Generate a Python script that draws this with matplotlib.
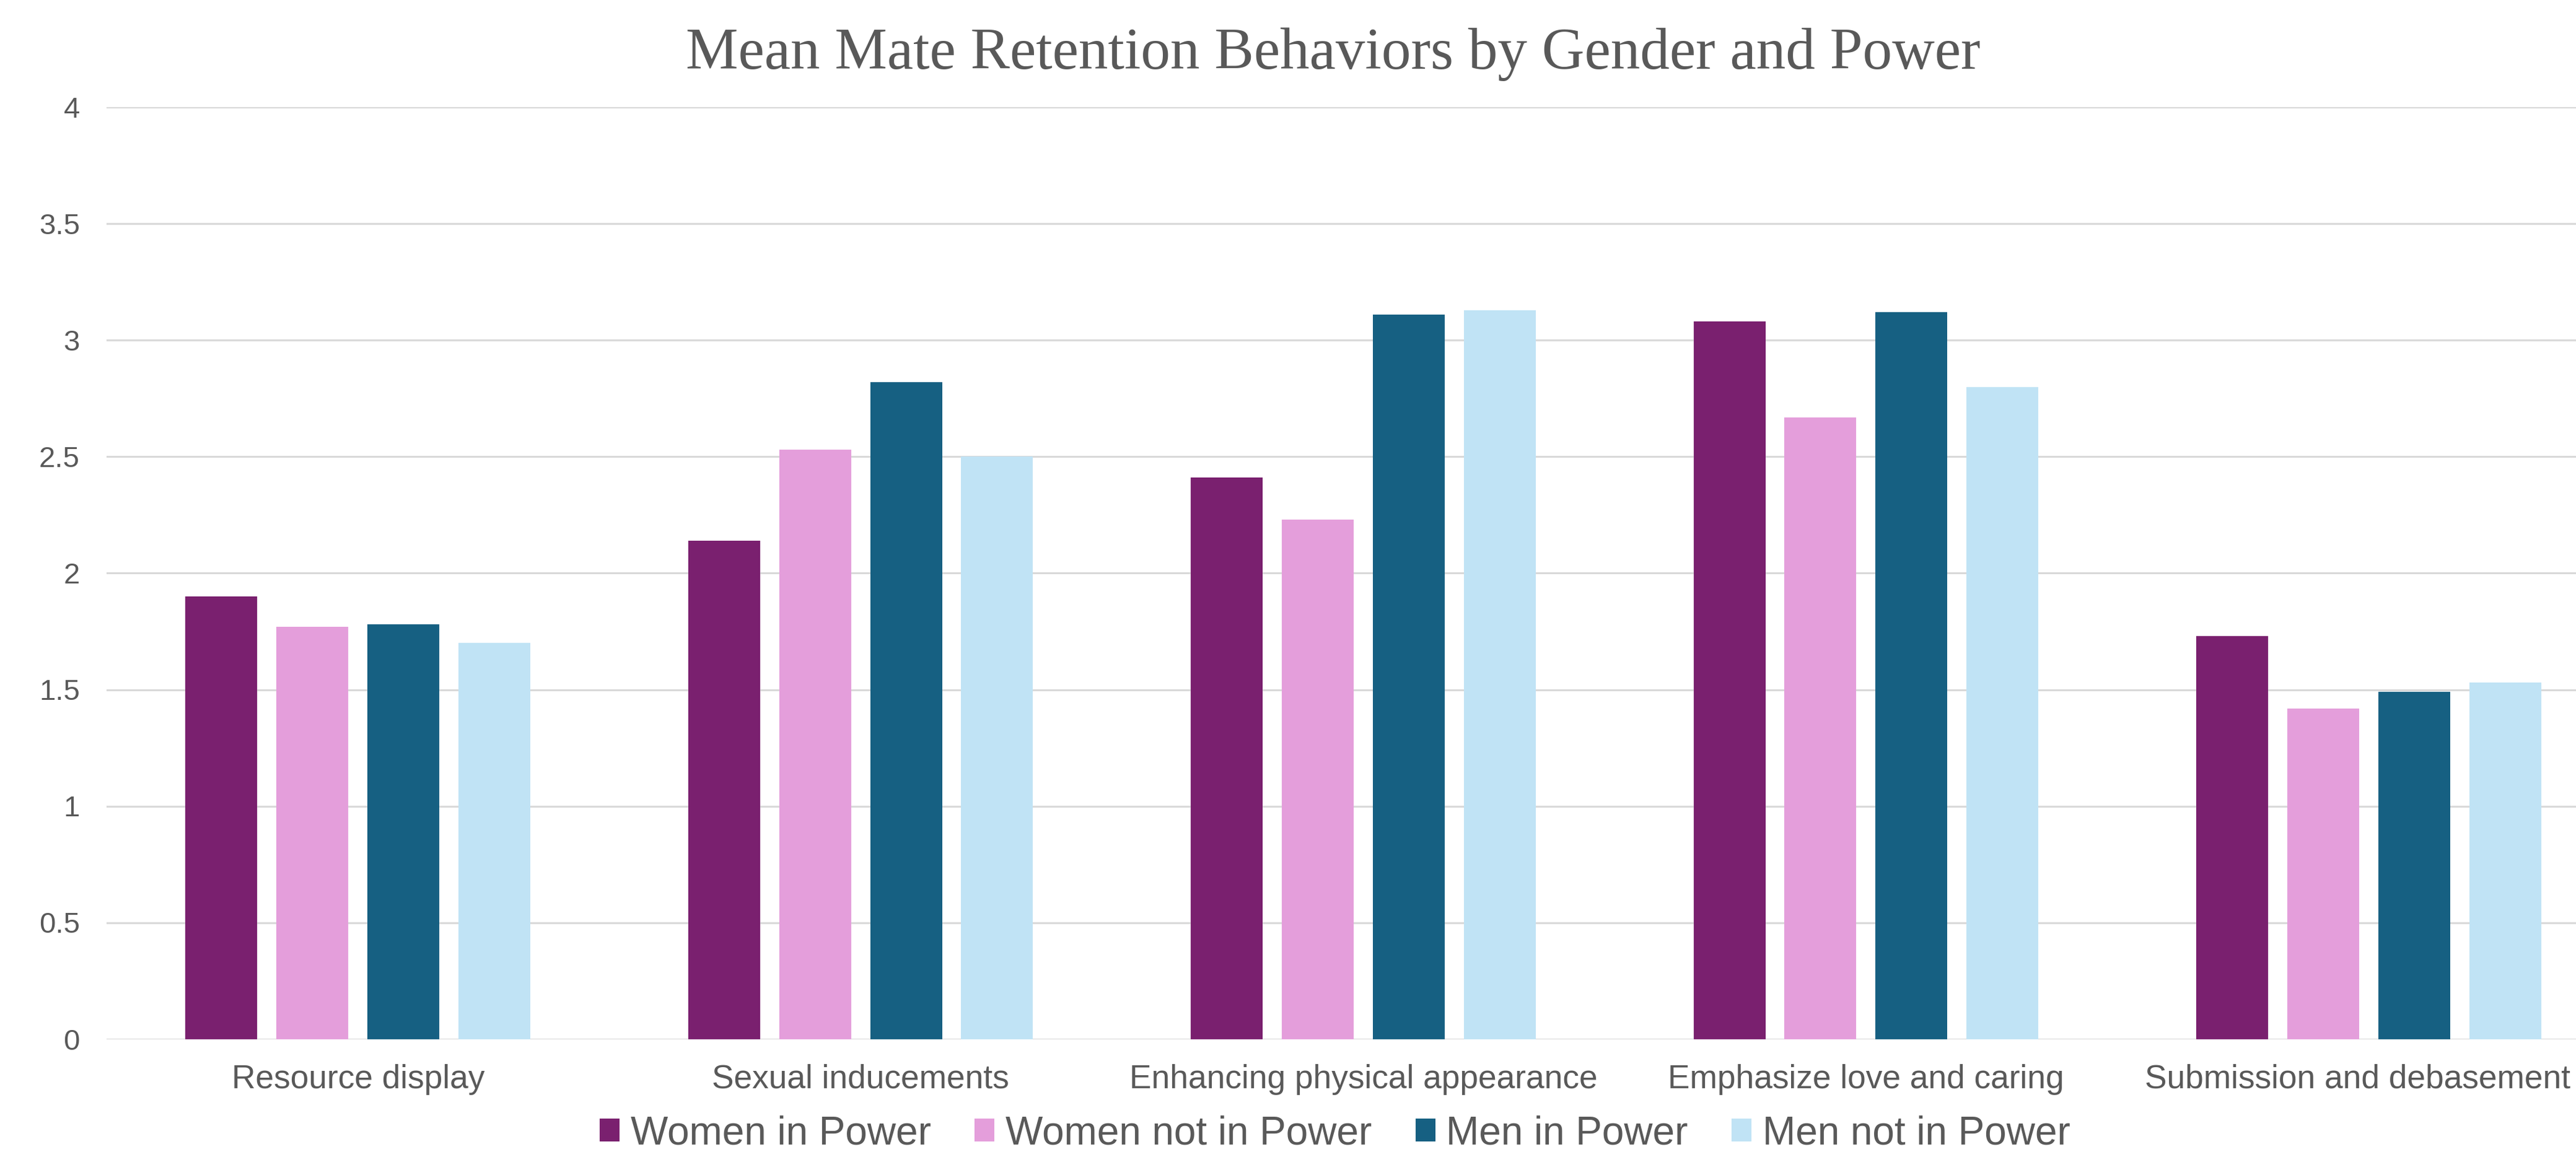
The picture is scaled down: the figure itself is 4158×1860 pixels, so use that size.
import numpy as np
import matplotlib.pyplot as plt
from matplotlib.transforms import ScaledTranslation

# data
categories = ["Resource display", "Sexual inducements", "Enhancing physical appearance",
              "Emphasize love and caring", "Submission and debasement"]
women_power = [1.90, 2.14, 2.41, 3.08, 1.73]
women_not_power = [1.77, 2.53, 2.23, 2.67, 1.42]
men_power = [1.78, 2.82, 3.11, 3.12, 1.49]
men_not_power = [1.70, 2.50, 3.13, 2.80, 1.53]
series_names = ["Women in Power", "Women not in Power", "Men in Power", "Men not in Power"]
yticks = [0, 0.5, 1, 1.5, 2, 2.5, 3, 3.5, 4]

colors = ["#7A206F", "#E49EDB", "#166082", "#C0E3F5"]
grey = "#595959"

fig = plt.figure(figsize=(41.58, 18.6), dpi=100)
ax = fig.add_axes([172 / 4158, 1 - 1677.5 / 1860, 4057 / 4158, 1504 / 1860])

x = np.arange(len(categories))
step = 0.181
width = 0.143
all_series = [women_power, women_not_power, men_power, men_not_power]
for i, (vals, name, c) in enumerate(zip(all_series, series_names, colors)):
    ax.bar(x + (i - 1.5) * step, vals, width, color=c, label=name, zorder=3)

ax.set_xlim(-0.5, len(categories) - 0.5)
ax.set_ylim(0, 4)
ax.set_yticks(yticks)
ax.set_yticklabels([f"{t:g}" for t in yticks])
ax.set_xticks(x)
ax.set_xticklabels(categories)
ax.yaxis.grid(True, color="#D9D9D9", linewidth=2.2, zorder=0)
ax.tick_params(axis="both", length=0, colors=grey)
ax.tick_params(axis="y", labelsize=34, pad=31)
ax.tick_params(axis="x", labelsize=38.3, pad=29)
for lab in ax.get_xticklabels() + ax.get_yticklabels():
    lab.set_fontfamily("Liberation Sans")
for s in ax.spines.values():
    s.set_visible(False)

# last category label is nudged left so it stays inside the figure, like in the original
last = ax.get_xticklabels()[-1]
last.set_transform(last.get_transform() + ScaledTranslation(-18 / 100, 0, fig.dpi_scale_trans))

fig.text(2152 / 4158, 1 - 111 / 1860, "Mean Mate Retention Behaviors by Gender and Power",
         ha="center", va="baseline", fontsize=68.5, family="Liberation Serif", color=grey)

leg = fig.legend(loc="center", bbox_to_anchor=(2155 / 4158, 1 - 1830 / 1860), ncol=4,
                 frameon=False, prop={"family": "Liberation Sans", "size": 46},
                 handlelength=0.5, handleheight=0.5, handletextpad=0.28, columnspacing=1.1,
                 borderaxespad=0, borderpad=0)
for t in leg.get_texts():
    t.set_color(grey)

fig.savefig("out.png", dpi=100)
